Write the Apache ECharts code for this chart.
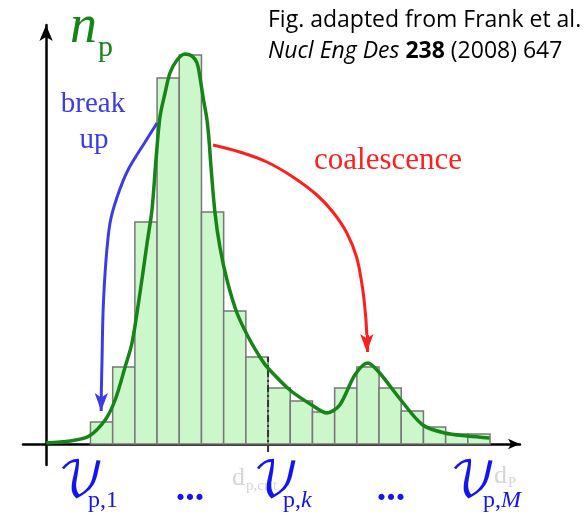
<!DOCTYPE html>
<html>
<head>
<meta charset="utf-8">
<script src="https://cdn.jsdelivr.net/npm/echarts@6/dist/echarts.min.js"></script>
<style>
  html, body { margin: 0; padding: 0; background: #fff; }
  #chart { width: 585px; height: 517px; }
</style>
</head>
<body>
<div id="chart"></div>
<script>
// histogram classes (bin start / end in class-width units, y = number density, arbitrary units)
var binStart = [2, 3, 4, 5, 6, 7, 8, 9, 10, 11, 12, 13, 14, 15, 16, 17, 18, 19];
var binEnd   = [3, 4, 5, 6, 7, 8, 9, 10, 11, 12, 13, 14, 15, 16, 17, 18, 19, 20];
var binCount = [22, 77, 222, 366, 389, 232, 133, 87, 56, 43, 32, 56, 77, 56, 33, 17, 10, 10];

// continuous size distribution drawn over the classes
var curveX = [0, 1.08, 1.94, 2.66, 3.11, 3.56, 3.87, 4.23, 4.55, 4.77, 4.95, 5.13, 5.36, 5.58, 5.9, 6.26, 6.57, 6.8, 6.93, 7.07, 7.25, 7.34, 7.43, 7.61, 7.83, 8.15, 8.6, 9.18, 9.72, 9.99, 10.98, 11.97, 12.65, 13.23, 13.91, 14.49, 14.99, 15.98, 16.97, 17.96, 18.99, 19.98];
var curveY = [1, 3, 8, 24, 44, 77, 101, 151, 201, 234, 284, 327, 351, 371, 384, 390, 388, 381, 367, 347, 324, 304, 277, 231, 197, 164, 131, 104, 84, 76, 54, 39, 31, 39, 69, 81, 72, 44, 19, 11, 8, 6];

// annotation arrows (break up / coalescence)
var breakX = [5.0, 4.46, 3.69, 3.2, 2.88, 2.7, 2.57, 2.52, 2.49];
var breakY = [321, 302, 274, 247, 221, 184, 134, 84, 54];
var breakTip = [2.48, 33];
var coalX = [7.52, 8.73, 9.95, 11.12, 12.2, 12.92, 13.55, 14.0, 14.27, 14.4, 14.45];
var coalY = [299, 292, 282, 267, 249, 232, 211, 186, 154, 127, 109];
var coalTip = [14.45, 92];

// critical diameter marker
var critX = 10;
var critY = [-8, 87];

function zip(xs, ys) {
	var out = [];
	for (var i = 0; i < xs.length; i++) out.push([xs[i], ys[i]]);
	return out;
}

var bins = [];
for (var i = 0; i < binStart.length; i++) bins.push([binStart[i], binEnd[i], binCount[i]]);

var chart = echarts.init(document.getElementById('chart'));

var blue = '#3c3ce6';
var red = '#ff1e1e';
var green = '#168416';
var labelBlue = '#1414f0';
var serif = "'Liberation Serif', 'DejaVu Serif', serif";
var script = "'DejaVu Math TeX Gyre', 'DejaVu Serif', 'Liberation Serif', serif";
var sans = "'Open Sans', sans-serif";

function arrowLine(xs, ys, tip, color) {
	var pts = zip(xs, ys);
	var last = pts[pts.length - 1];
	return {
		type: 'line',
		data: pts,
		smooth: 0.3,
		symbol: 'none',
		silent: true,
		z: 4,
		lineStyle: { color: color, width: 3 },
		markLine: {
			silent: true,
			symbol: ['none', 'arrow'],
			symbolSize: [10, 18],
			label: { show: false },
			lineStyle: { color: color, width: 3, type: 'solid' },
			data: [[{ coord: last }, { coord: tip }]]
		}
	};
}

function subLabel(x, y, sub, italicPart) {
	return {
		type: 'text', x: x, y: y, z: 10,
		style: {
			text: '{r|' + sub + '}' + (italicPart ? '{i|' + italicPart + '}' : ''),
			fill: labelBlue,
			verticalAlign: 'middle',
			rich: {
				r: { fontSize: 24, fontFamily: 'Liberation Serif', fill: labelBlue },
				i: { fontSize: 24, fontFamily: 'Liberation Serif', fontStyle: 'italic', fill: labelBlue }
			}
		}
	};
}

var option = {
	animation: false,
	backgroundColor: '#fff',
	grid: { left: 23, right: 65, top: 25, bottom: 52 },
	xAxis: {
		type: 'value',
		min: -1.04,
		max: 21.35,
		axisLine: {
			onZero: true,
			symbol: ['none', 'arrow'],
			symbolSize: [8, 12],
			lineStyle: { color: '#000', width: 2.5 }
		},
		axisTick: { show: false },
		axisLabel: { show: false },
		splitLine: { show: false }
	},
	yAxis: {
		type: 'value',
		min: -21,
		max: 419,
		axisLine: {
			show: true,
			onZero: true,
			symbol: ['none', 'arrow'],
			symbolSize: [10, 16],
			lineStyle: { color: '#000', width: 2.5 }
		},
		axisTick: { show: false },
		axisLabel: { show: false },
		splitLine: { show: false }
	},
	series: [
		{
			type: 'custom',
			silent: true,
			z: 2,
			data: bins,
			renderItem: function(params, api) {
				var p0 = api.coord([api.value(0), api.value(2)]);
				var p1 = api.coord([api.value(1), 0]);
				return {
					type: 'rect',
					shape: { x: p0[0], y: p0[1], width: p1[0] - p0[0], height: p1[1] - p0[1] },
					style: { fill: '#ccf7ca', stroke: '#777', lineWidth: 1.5 }
				};
			}
		},
		{
			type: 'line',
			data: [[critX, critY[0]], [critX, critY[1]]],
			symbol: 'none',
			silent: true,
			z: 3,
			lineStyle: { color: '#333', width: 2, type: [7, 3, 2, 3] }
		},
		{
			type: 'line',
			data: zip(curveX, curveY),
			smooth: 0.3,
			symbol: 'none',
			silent: true,
			z: 5,
			lineStyle: { color: green, width: 3.5 }
		},
		arrowLine(breakX, breakY, breakTip, blue),
		arrowLine(coalX, coalY, coalTip, red)
	],
	graphic: [
		// faint diameter labels from the original figure
		{ type: 'text', x: 232, y: 478, z: 1, style: { text: 'd', font: '26px ' + serif, fill: '#d6d6d6', verticalAlign: 'middle' } },
		{ type: 'text', x: 246, y: 486, z: 1, style: { text: 'p,crit', font: '15px ' + serif, fill: '#d6d6d6', verticalAlign: 'middle' } },
		{ type: 'text', x: 494, y: 476, z: 1, style: { text: 'd', font: '26px ' + serif, fill: '#d6d6d6', verticalAlign: 'middle' } },
		{ type: 'text', x: 508, y: 483, z: 1, style: { text: 'P', font: '15px ' + serif, fill: '#d6d6d6', verticalAlign: 'middle' } },

		// n_p
		{ type: 'text', x: 70, y: 28, z: 10, style: { text: 'n', font: 'italic 54px ' + serif, fill: green, verticalAlign: 'middle' } },
		{ type: 'text', x: 98, y: 48, z: 10, style: { text: 'p', font: '30px ' + serif, fill: green, verticalAlign: 'middle' } },

		// annotations
		{ type: 'text', x: 93, y: 104, z: 10, style: { text: 'break', font: '29px ' + serif, fill: blue, align: 'center', verticalAlign: 'middle' } },
		{ type: 'text', x: 94, y: 140, z: 10, style: { text: 'up', font: '29px ' + serif, fill: blue, align: 'center', verticalAlign: 'middle' } },
		{ type: 'text', x: 388, y: 161, z: 10, style: { text: 'coalescence', font: '31px ' + serif, fill: red, align: 'center', verticalAlign: 'middle' } },

		// citation
		{ type: 'text', x: 268, y: 20, z: 10, style: { text: 'Fig. adapted from Frank et al.', font: '23px ' + sans, fill: '#000', verticalAlign: 'middle' } },
		{
			type: 'text', x: 268, y: 51, z: 10,
			style: {
				text: '{i|Nucl Eng Des} {b|238} (2008) 647',
				font: '23px ' + sans,
				fill: '#000',
				verticalAlign: 'middle',
				rich: {
					i: { fontStyle: 'italic', fontSize: 23, fontFamily: 'Open Sans' },
					b: { fontWeight: 'bold', fontSize: 23, fontFamily: 'Open Sans' }
				}
			}
		},

		// class volume labels
		{ type: 'text', x: 58, y: 482, z: 10, style: { text: '𝒱', font: '48px ' + script, fill: labelBlue, verticalAlign: 'middle' } },
		subLabel(88, 501, 'p,1'),
		{ type: 'text', x: 190, y: 490, z: 10, style: { text: '...', font: 'bold 38px ' + serif, fill: labelBlue, align: 'center', verticalAlign: 'middle' } },
		{ type: 'text', x: 253, y: 482, z: 10, style: { text: '𝒱', font: '48px ' + script, fill: labelBlue, verticalAlign: 'middle' } },
		subLabel(283, 501, 'p,', 'k'),
		{ type: 'text', x: 391, y: 490, z: 10, style: { text: '...', font: 'bold 38px ' + serif, fill: labelBlue, align: 'center', verticalAlign: 'middle' } },
		{ type: 'text', x: 450, y: 482, z: 10, style: { text: '𝒱', font: '48px ' + script, fill: labelBlue, verticalAlign: 'middle' } },
		subLabel(483, 501, 'p,', 'M')
	]
};

chart.setOption(option);
</script>
</body>
</html>
